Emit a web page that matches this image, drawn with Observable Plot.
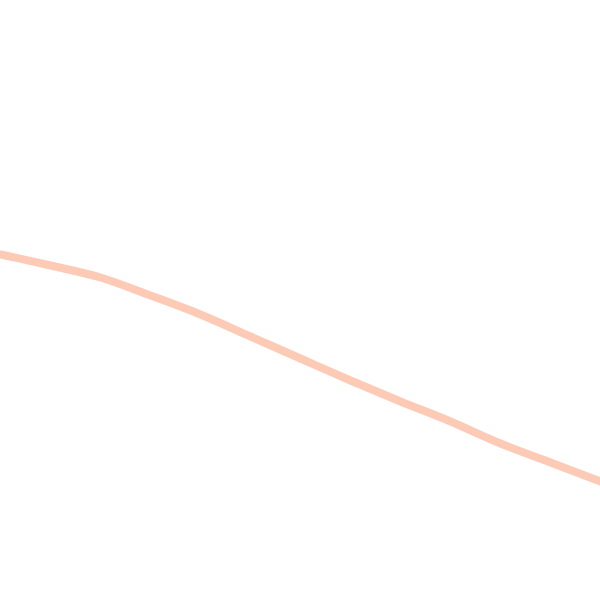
<!DOCTYPE html>
<html>
<head>
<meta charset="utf-8">
<script src="https://cdn.jsdelivr.net/npm/d3@7"></script>
<script src="https://cdn.jsdelivr.net/npm/@observablehq/plot@0.6"></script>
<style>
  html, body { margin: 0; padding: 0; background: #fff; }
</style>
</head>
<body>
<div id="chart"></div>
<script>
const xs = [0, 50, 100, 150, 200, 250, 300, 350, 400, 450, 500, 550, 600];
const ys = [254, 265, 277, 295, 314, 336, 358, 380, 401, 421, 443, 462, 481];
const data = xs.map((x, i) => ({x, y: ys[i]}));

const chart = Plot.plot({
  width: 600,
  height: 600,
  margin: 0,
  x: {domain: [0, 600], axis: null},
  y: {domain: [0, 600], reverse: true, axis: null},
  marks: [
    Plot.line(data, {x: "x", y: "y", stroke: "#fcb89e", strokeWidth: 8, strokeOpacity: 0.75, curve: "monotone-x"})
  ]
});
document.getElementById("chart").append(chart);
</script>
</body>
</html>
